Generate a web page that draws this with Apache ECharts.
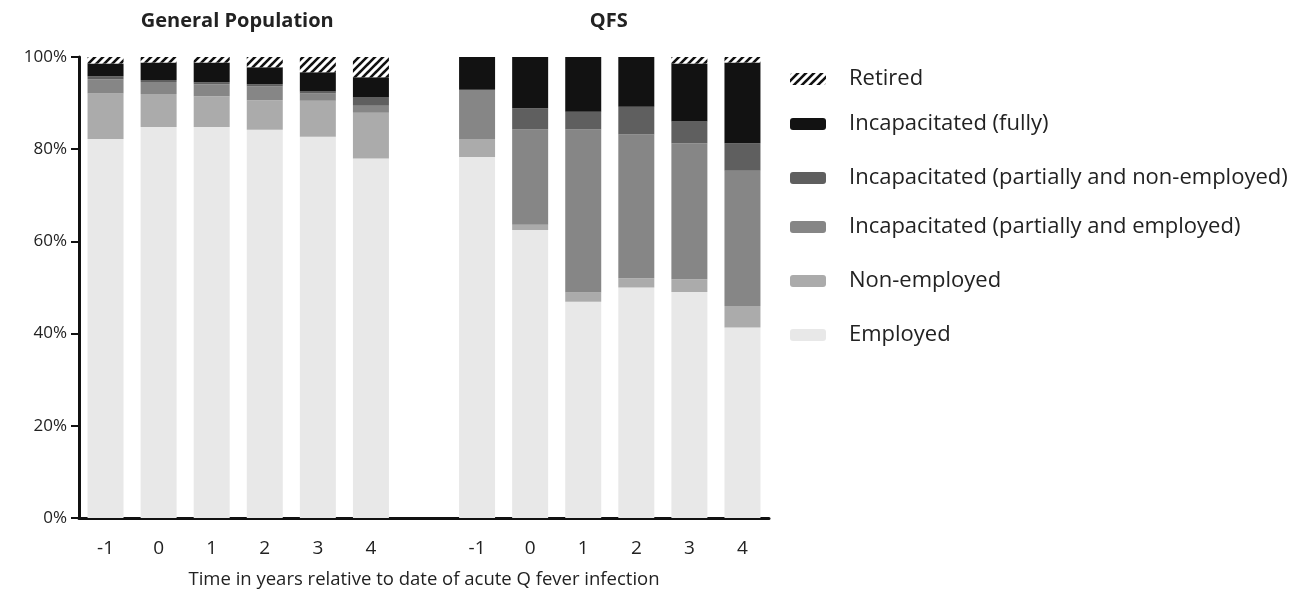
<!DOCTYPE html>
<html>
<head>
<meta charset="utf-8">
<script src="https://cdn.jsdelivr.net/npm/echarts@6/dist/echarts.min.js"></script>
<style>html,body{margin:0;padding:0;background:#fff;}#c{width:1304px;height:592px;}</style>
</head>
<body>
<div id="c"></div>
<script>
// ---- data ----
const categories = ['GP:-1','GP:0','GP:1','GP:2','GP:3','GP:4','gap','QFS:-1','QFS:0','QFS:1','QFS:2','QFS:3','QFS:4'];
const tickLabels = ['-1','0','1','2','3','4','','-1','0','1','2','3','4'];
const groupTitles = ['General Population', 'QFS'];
const seriesNames = ['Employed','Non-employed','Incapacitated (partially and employed)','Incapacitated (partially and non-employed)','Incapacitated (fully)','Retired'];
const employed        = [82.2, 84.8, 84.8, 84.2, 82.7, 78.0, null, 78.3, 62.5, 46.9, 50.0, 49.0, 41.3];
const nonEmployed     = [9.9, 7.2, 6.7, 6.4, 7.8, 9.9, null, 3.9, 1.1, 2.0, 2.0, 2.8, 4.7];
const partEmployed    = [3.1, 2.6, 2.6, 3.0, 1.6, 1.5, null, 10.7, 20.7, 35.4, 31.2, 29.5, 29.3];
const partNonEmployed = [0.6, 0.4, 0.4, 0.5, 0.4, 1.8, null, 0, 4.6, 3.8, 6.0, 4.7, 6.0];
const incapFully      = [2.8, 3.8, 4.3, 3.7, 4.2, 4.4, null, 7.1, 11.1, 11.9, 10.8, 12.6, 17.5];
const retired         = [1.4, 1.2, 1.2, 2.2, 3.3, 4.4, null, 0, 0, 0, 0, 1.4, 1.2];
const yTicks = [0, 20, 40, 60, 80, 100];

// ---- styles ----
const FONT = '"Open Sans"';
const colors = ['#e8e8e8', '#ababab', '#868686', '#5f5f5f', '#121212'];
function hatch() {
  const s = 8, c = document.createElement('canvas');
  c.width = s; c.height = s;
  const g = c.getContext('2d');
  g.fillStyle = '#ffffff'; g.fillRect(0, 0, s, s);
  g.strokeStyle = '#111'; g.lineWidth = 2.6; g.lineCap = 'square';
  g.beginPath();
  for (const k of [-s, 0, s]) { g.moveTo(k, s); g.lineTo(k + s, 0); }
  g.stroke();
  return { image: c, repeat: 'repeat' };
}
const dataArrays = [employed, nonEmployed, partEmployed, partNonEmployed, incapFully, retired];
const series = dataArrays.map((arr, i) => ({
  name: seriesNames[i],
  type: 'bar',
  stack: 'total',
  barWidth: 36,
  data: arr,
  itemStyle: { color: i < 5 ? colors[i] : hatch() },
  emphasis: { disabled: true }
}));

const legendOrder = seriesNames.slice().reverse();
const legendCenters = [77, 122, 176, 225, 279, 333];
const legends = legendOrder.map((n, i) => ({
  data: [n],
  orient: 'vertical',
  left: 790,
  top: legendCenters[i] - 9,
  itemWidth: 36,
  itemHeight: 12,
  padding: 0,
  selectedMode: false,
  textStyle: { fontFamily: FONT, fontSize: 22, color: '#222', padding: [0, 0, 0, 18] }
}));

const GRID_LEFT = 79, GRID_W = 690;
const slot = GRID_W / categories.length;
const titleCenters = [GRID_LEFT + slot * 3 - 6, GRID_LEFT + slot * 10 - 6];

const option = {
  animation: false,
  backgroundColor: '#ffffff',
  title: groupTitles.map((t, i) => ({
    text: t,
    left: titleCenters[i],
    top: 6,
    textAlign: 'center',
    textStyle: { fontFamily: FONT, fontWeight: 'bold', fontSize: 20, color: '#222' }
  })),
  legend: legends,
  grid: { left: GRID_LEFT, width: GRID_W, top: 57, bottom: 74, containLabel: false, outerBoundsMode: 'none' },
  xAxis: {
    type: 'category',
    data: categories,
    axisLine: { lineStyle: { color: '#111', width: 3 } },
    axisTick: { show: false },
    axisLabel: { fontFamily: FONT, fontSize: 19, color: '#222', margin: 21, interval: 0,
      formatter: (v, idx) => tickLabels[idx] },
    name: 'Time in years relative to date of acute Q fever infection',
    nameLocation: 'middle',
    nameGap: 52,
    nameTextStyle: { fontFamily: FONT, fontSize: 18.5, color: '#222' }
  },
  yAxis: {
    type: 'value',
    min: yTicks[0], max: yTicks[yTicks.length - 1], interval: 20,
    axisLine: { show: true, lineStyle: { color: '#111', width: 3 } },
    axisTick: { show: true, length: 8, lineStyle: { color: '#111', width: 2 } },
    splitLine: { show: false },
    axisLabel: { fontFamily: FONT, fontSize: 17, color: '#222', margin: 12, formatter: '{value}%' }
  },
  series: series
};
const chart = echarts.init(document.getElementById('c'), null, { renderer: 'canvas' });
chart.setOption(option);
</script>
</body>
</html>
